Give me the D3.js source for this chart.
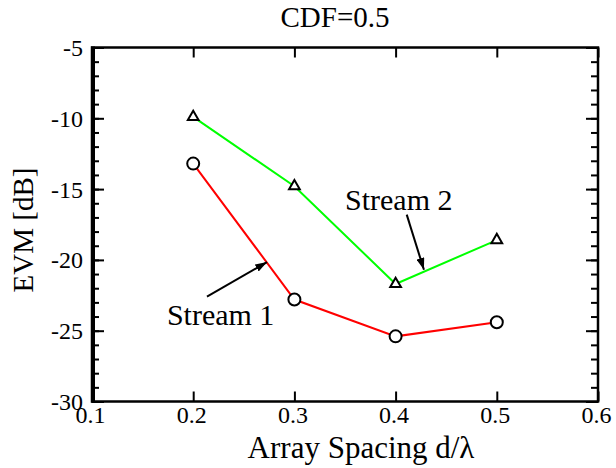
<!DOCTYPE html>
<html><head><meta charset="utf-8">
<script src="https://cdn.jsdelivr.net/npm/d3@7"></script>
</head>
<body style="margin:0">
<svg id="chart" width="616" height="468"></svg>
<script>
// ---- data ----
const spacing = [0.2, 0.3, 0.4, 0.5];
const stream1 = [-13.2, -22.8, -25.4, -24.4];
const stream2 = [-9.9, -14.8, -21.7, -18.6];
const xTicks = [0.1, 0.2, 0.3, 0.4, 0.5, 0.6];
const yTicks = [-30, -25, -20, -15, -10, -5];
const yMinor = d3.range(-30, -4, 1);
const title = "CDF=0.5";
const xLabel = "Array Spacing d/\u03bb";
const yLabel = "EVM [dB]";
// annotations in data units: [tailX, tailY, tipX, tipY], label position
const ann1 = {label: "Stream 1", tx: 0.174, ty: -24.6, arrow: [0.2136, -22.6, 0.273, -20.15]};
const ann2 = {label: "Stream 2", tx: 0.35, ty: -16.5, arrow: [0.411, -16.8, 0.428, -20.7]};

const FONT = "Liberation Serif";
const svg = d3.select("#chart");
const L = 92, R = 598, T = 47.5, B = 401.5;
const x = d3.scaleLinear().domain([0.1, 0.6]).range([L, R]);
const y = d3.scaleLinear().domain([-30, -5]).range([B, T]);

function txt(sel, size) {
  return sel.attr("font-family", FONT).attr("font-size", size)
    .style("font-family", `"${FONT}"`);
}

const defs = svg.append("defs");
defs.append("marker").attr("id", "ah").attr("viewBox", "0 0 12 8")
  .attr("refX", 12).attr("refY", 4).attr("markerWidth", 12).attr("markerHeight", 8)
  .attr("markerUnits", "userSpaceOnUse").attr("orient", "auto")
  .append("path").attr("d", "M0,0 L12,4 L0,8 Z").attr("fill", "#000");

// axes (ticks inward)
const fmtX = d3.format(".1f");
const gB = svg.append("g").attr("transform", `translate(0,${B})`)
  .call(d3.axisTop(x).tickValues(xTicks).tickSize(10).tickFormat(""));
const gT = svg.append("g").attr("transform", `translate(0,${T})`)
  .call(d3.axisBottom(x).tickValues(xTicks).tickSize(10).tickFormat(""));
const gL = svg.append("g").attr("transform", `translate(${L},0)`)
  .call(d3.axisRight(y).tickValues(yMinor).tickSize(7).tickFormat(""));
const gL2 = svg.append("g").attr("transform", `translate(${L},0)`)
  .call(d3.axisRight(y).tickValues(yTicks).tickSize(12).tickFormat(""));
const gR = svg.append("g").attr("transform", `translate(${R},0)`)
  .call(d3.axisLeft(y).tickValues(yMinor).tickSize(7).tickFormat(""));
const gR2 = svg.append("g").attr("transform", `translate(${R},0)`)
  .call(d3.axisLeft(y).tickValues(yTicks).tickSize(12).tickFormat(""));
[gB, gT, gL, gL2, gR, gR2].forEach(g => {
  g.select(".domain").remove();
  g.selectAll(".tick line").attr("stroke", "#000").attr("stroke-width", 2);
});
svg.append("rect").attr("x", L).attr("y", T).attr("width", R - L).attr("height", B - T)
  .attr("fill", "none").attr("stroke", "#000").attr("stroke-width", 2.5);
svg.append("line").attr("x1", L + 1).attr("x2", L + 1).attr("y1", T - 1).attr("y2", B + 1)
  .attr("stroke", "#000").attr("stroke-width", 4);

// tick labels
txt(svg.append("g").selectAll("text").data(xTicks).join("text"), 24)
  .attr("x", d => x(d) - 1.5).attr("y", 423).attr("text-anchor", "middle")
  .text(d => fmtX(d));
txt(svg.append("g").selectAll("text").data(yTicks).join("text"), 24)
  .attr("x", 83).attr("y", d => y(d) + 8.4).attr("text-anchor", "end")
  .text(d => d);

// titles
txt(svg.append("text"), 29).attr("x", 335).attr("y", 27).attr("text-anchor", "middle").text(title);
txt(svg.append("text"), 31).attr("x", 361).attr("y", 458).attr("text-anchor", "middle").text(xLabel);
txt(svg.append("text"), 29).attr("transform", "translate(33,230) rotate(-90)")
  .attr("text-anchor", "middle").text(yLabel);

// lines
const line = d3.line().x((d, i) => x(spacing[i])).y(d => y(d));
svg.append("path").datum(stream1).attr("d", line).attr("fill", "none")
  .attr("stroke", "#ff0000").attr("stroke-width", 2);
svg.append("path").datum(stream2).attr("d", line).attr("fill", "none")
  .attr("stroke", "#00ff00").attr("stroke-width", 2);

// markers
svg.append("g").selectAll("circle").data(stream1).join("circle")
  .attr("cx", (d, i) => x(spacing[i])).attr("cy", d => y(d)).attr("r", 6)
  .attr("fill", "#fff").attr("stroke", "#000").attr("stroke-width", 2);
const tri = d3.symbol().type(d3.symbolTriangle).size(50);
svg.append("g").selectAll("path").data(stream2).join("path")
  .attr("transform", (d, i) => `translate(${x(spacing[i])},${y(d)})`).attr("d", tri)
  .attr("fill", "#fff").attr("stroke", "#000").attr("stroke-width", 2);

// annotations
[ann1, ann2].forEach(a => {
  svg.append("line").attr("x1", x(a.arrow[0])).attr("y1", y(a.arrow[1]))
    .attr("x2", x(a.arrow[2])).attr("y2", y(a.arrow[3]))
    .attr("stroke", "#000").attr("stroke-width", 2).attr("marker-end", "url(#ah)");
  txt(svg.append("text"), 30).attr("x", x(a.tx)).attr("y", y(a.ty)).text(a.label);
});
</script></body></html>
